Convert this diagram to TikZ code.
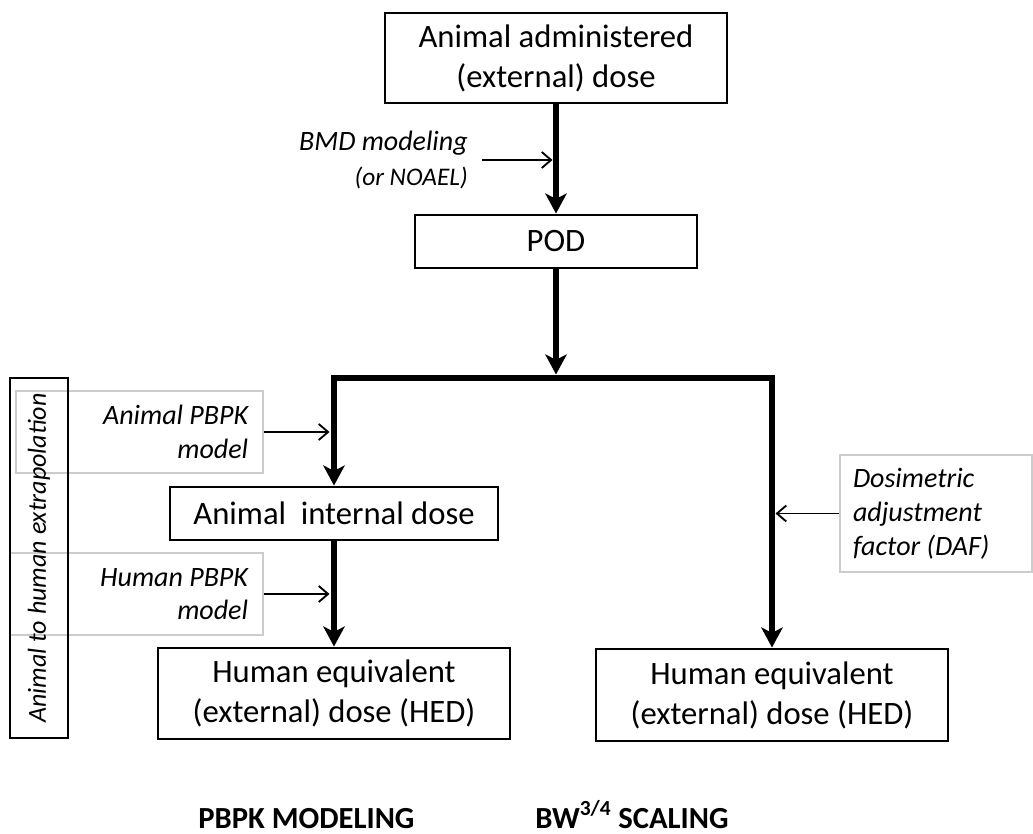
\documentclass[tikz,border=0pt]{standalone}
\usepackage{fontspec}
\setmainfont{Carlito}
\usetikzlibrary{arrows.meta}

\begin{document}
\begin{tikzpicture}[x=0.75pt,y=-0.75pt,
  >={Stealth[length=15pt,width=16pt,inset=4pt]},
  box/.style = {draw, line width=2.2pt, align=center, inner sep=0pt, font=\fontsize{24.5}{30}\selectfont},
  note/.style = {draw=black!20, line width=0.8pt, inner sep=0pt, font=\fontsize{21}{25}\selectfont\itshape},
  flow/.style = {line width=5pt, ->},
  hint/.style = {line width=1.4pt, -{Straight Barb[length=7pt,width=12pt]}}]
				\useasboundingbox (0,0) rectangle (1033,834);
				\node[box, minimum width=256.5pt, minimum height=67.5pt] (admin) at (556,58) {Animal administered\\(external) dose};
				\node[box, minimum width=211.5pt, minimum height=39.75pt] (pod) at (556,241.5) {POD};
				\node[box, minimum width=246pt, minimum height=39.75pt] (internal) at (334,513.5) {Animal\ \ internal dose};
				\node[box, minimum width=264pt, minimum height=68.25pt] (hedl) at (334,693.5) {Human equivalent\\(external) dose (HED)};
				\node[box, minimum width=264pt, minimum height=69pt] (hedr) at (772,695) {Human equivalent\\(external) dose (HED)};
				\begin{scope}[every node/.style={note}]
					\node[minimum width=185.25pt, minimum height=61.5pt, text width=163pt, align=flush right] (apbpk) at (139.5,432) {Animal PBPK\\model};
					\node[minimum width=189.75pt, minimum height=61.5pt, text width=167.25pt, align=flush right] (hpbpk) at (136.5,594) {Human PBPK\\model};
					\node[minimum width=144pt, minimum height=87.75pt, text width=124.5pt, align=flush left, font=\fontsize{21}{25.5}\selectfont\itshape] (daf) at (936,513.5) {Dosimetric\\adjustment\\factor (DAF)};
				\end{scope}
				\node[align=right, inner xsep=10.5pt, inner ysep=0pt, anchor=east, font=\fontsize{21}{26}\selectfont\itshape] (bmd) at (482,160) {BMD modeling\\{\fontsize{19}{22}\selectfont (or NOAEL)}};
				\node[draw, line width=0.9pt, minimum width=270pt, minimum height=43.5pt, rotate=90, inner sep=0pt, font=\fontsize{19.5}{24}\selectfont\itshape] (axis) at (39,558) {Animal to human extrapolation};
				\node[anchor=base west, inner sep=0pt, font=\fontsize{23}{27}\selectfont\bfseries] (pbpk) at (198,828) {PBPK MODELING};
				\node[anchor=base west, inner sep=0pt, font=\fontsize{23}{27}\selectfont\bfseries] (bw) at (535,828) {BW\textsuperscript{3/4} SCALING};
				\coordinate (split) at (556,374.5);
				\coordinate (turn) at (772,378);
				\coordinate (bmdin) at (552.5,160);
				\coordinate (apin) at (329.5,432);
				\coordinate (hpin) at (329.5,594);
				\coordinate (dafin) at (775.5,513.5);
				\draw[flow] (admin) -- (pod);
				\draw[flow] (pod) -- (split);
				\draw[flow, <->, line join=miter] (internal) |- (turn) -- (hedr);
				\draw[flow] (internal) -- (hedl);
				\draw[hint] (bmd) -- (bmdin);
				\draw[hint] (apbpk) -- (apin);
				\draw[hint] (hpbpk) -- (hpin);
				\draw[hint] (daf) -- (dafin);
			\end{tikzpicture}
\end{document}
